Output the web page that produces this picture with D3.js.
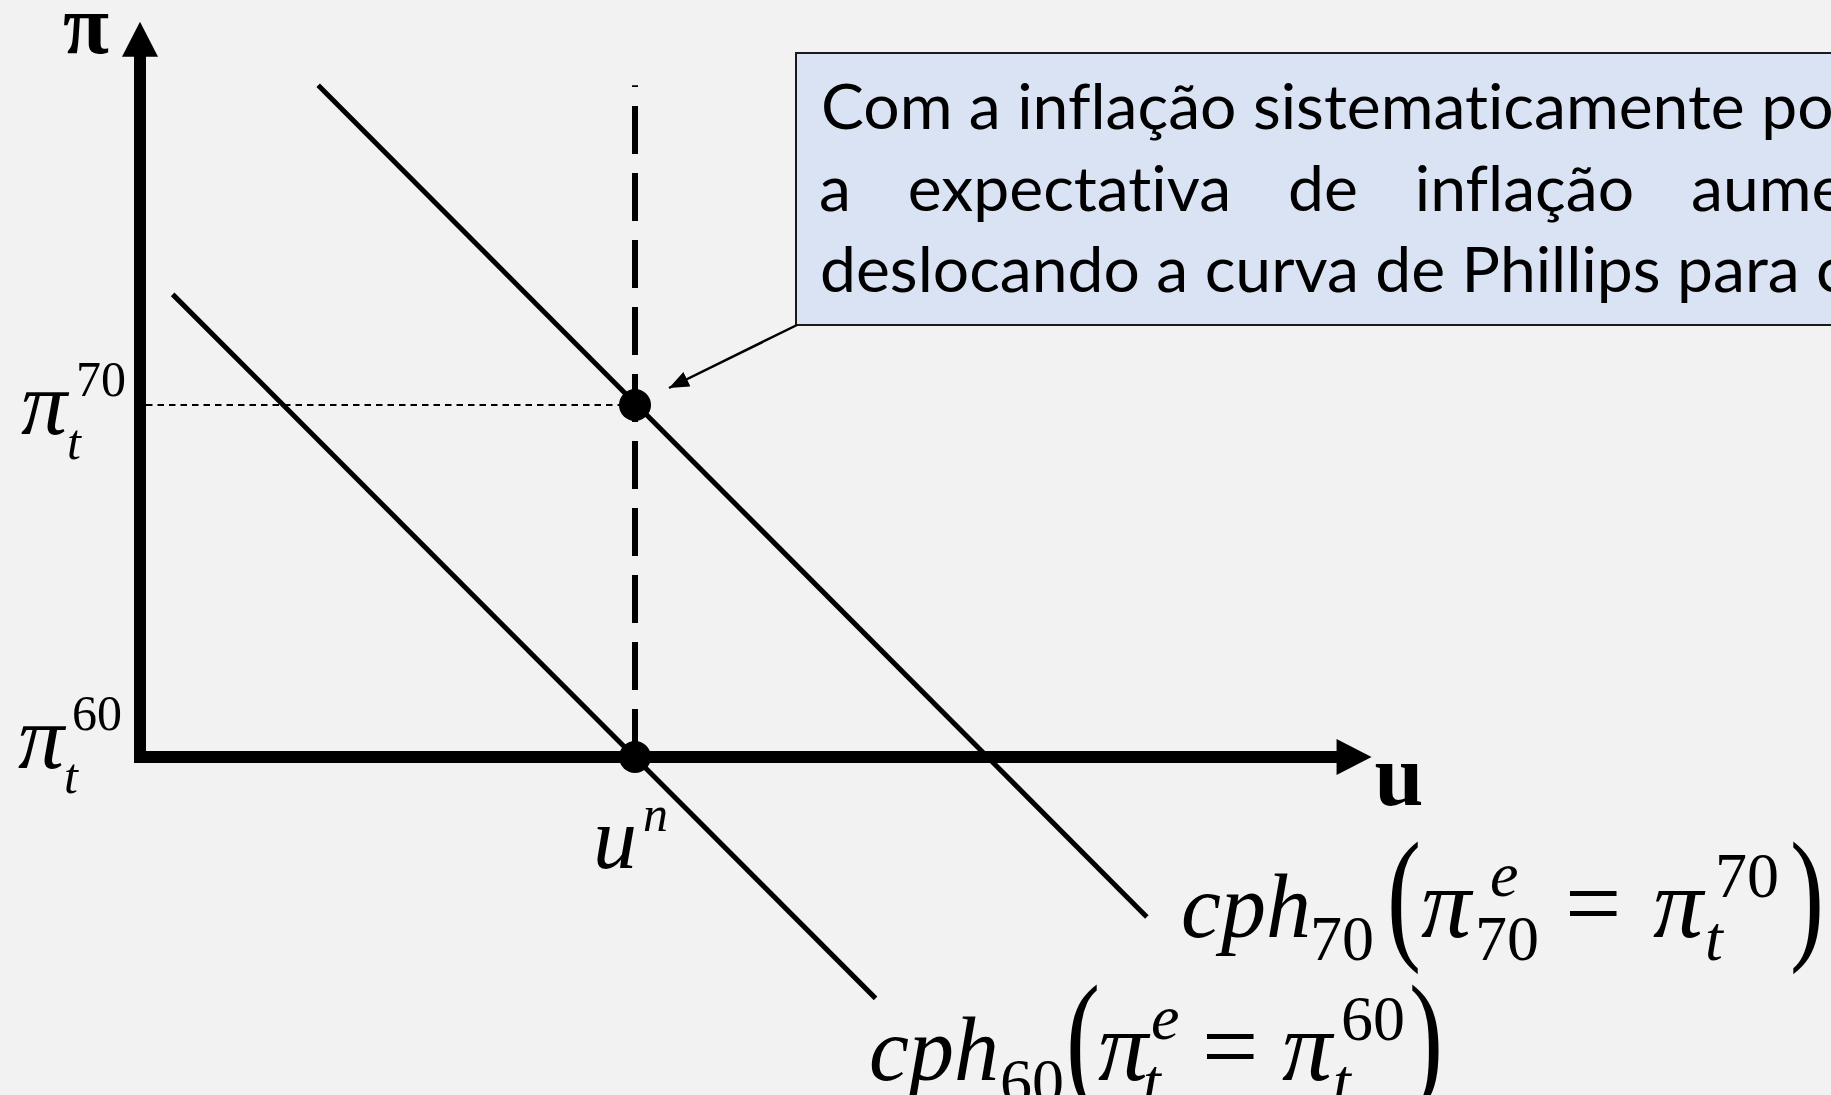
<!DOCTYPE html>
<html>
<head>
<meta charset="utf-8">
<script src="https://cdn.jsdelivr.net/npm/d3@7"></script>
<style>
  html, body { margin: 0; padding: 0; background: #f2f2f2; overflow: hidden; }
  svg { display: block; }
  text { font-variant-ligatures: none; }
</style>
</head>
<body>
<svg id="chart" width="1831" height="1095"></svg>
<script>
// values (u = unemployment, pi = inflation)
var uAxisEnd = 12.44;
var piAxisEnd = 7.31;
var uNatural = 5;
var pi60 = 0;
var pi70 = 3.5;
var cph60 = [[0.33, 4.60], [7.43, -2.40]];
var cph70 = [[1.80, 6.68], [10.17, -1.59]];
var naturalLineTop = 6.68;
var points = [[uNatural, pi70], [uNatural, pi60]];
var noteLines = ["Com a inflação sistematicamente positiva,",
                 "a expectativa de inflação aumenta,",
                 "deslocando a curva de Phillips para cima."];

var svg = d3.select('#chart');
var x = d3.scaleLinear().domain([0, 10]).range([140, 1130]);
var y = d3.scaleLinear().domain([0, 7]).range([757, 53]);
var line = d3.line().x(function (d) { return x(d[0]); }).y(function (d) { return y(d[1]); });

var serif = '"Liberation Serif", "Times New Roman", serif';

// axes with arrow heads
var head = 35, half = 18, axisW = 12;
svg.append('path')
  .attr('d', 'M' + x(0) + ',' + (y(piAxisEnd) + head - 1) + 'L' + x(0) + ',' + y(0) + 'L' + (x(uAxisEnd) - head + 1) + ',' + y(0))
  .attr('fill', 'none').attr('stroke', '#000').attr('stroke-width', axisW).attr('stroke-linejoin', 'miter');
svg.append('path')
  .attr('d', 'M' + x(0) + ',' + y(piAxisEnd) + 'L' + (x(0) - half) + ',' + (y(piAxisEnd) + head) + 'L' + (x(0) + half) + ',' + (y(piAxisEnd) + head) + 'Z')
  .attr('fill', '#000');
svg.append('path')
  .attr('d', 'M' + x(uAxisEnd) + ',' + y(0) + 'L' + (x(uAxisEnd) - head) + ',' + (y(0) - half) + 'L' + (x(uAxisEnd) - head) + ',' + (y(0) + half) + 'Z')
  .attr('fill', '#000');

// dotted guide at pi70
svg.append('path')
  .attr('d', 'M' + (x(0) + axisW / 2) + ',' + y(pi70) + 'L' + x(uNatural) + ',' + y(pi70))
  .attr('stroke', '#000').attr('stroke-width', 2).attr('stroke-dasharray', '6.5,5');

// long-run vertical at natural rate (dash pattern starts at the bottom)
svg.append('path')
  .attr('d', line([[uNatural, 0], [uNatural, naturalLineTop]]))
  .attr('stroke', '#000').attr('stroke-width', 6).attr('stroke-dasharray', '48,19');

// short-run Phillips curves
[cph60, cph70].forEach(function (c) {
  svg.append('path').attr('d', line(c))
    .attr('fill', 'none').attr('stroke', '#000').attr('stroke-width', 5);
});

svg.selectAll('circle.pt').data(points).enter().append('circle')
  .attr('class', 'pt')
  .attr('cx', function (d) { return x(d[0]); })
  .attr('cy', function (d) { return y(d[1]); })
  .attr('r', 16).attr('fill', '#000');

// callout box
var boxX = 796, boxY = 53, boxH = 272;
svg.append('rect').attr('x', boxX).attr('y', boxY).attr('width', 1200).attr('height', boxH)
  .attr('fill', '#dae3f3').attr('stroke', '#1a1a1a').attr('stroke-width', 2);

svg.append('defs').append('marker')
  .attr('id', 'tri').attr('viewBox', '0 0 10 10').attr('refX', 10).attr('refY', 5)
  .attr('markerUnits', 'userSpaceOnUse').attr('markerWidth', 20).attr('markerHeight', 16)
  .attr('orient', 'auto').attr('preserveAspectRatio', 'none')
  .append('path').attr('d', 'M0,0L10,5L0,10Z').attr('fill', '#000');
svg.append('line')
  .attr('x1', boxX + 1).attr('y1', boxY + boxH)
  .attr('x2', x(uNatural) + 34).attr('y2', y(pi70) - 17)
  .attr('stroke', '#000').attr('stroke-width', 2.5).attr('marker-end', 'url(#tri)');

// note text (Calibri look-alike, squeezed to the original width)
var noteFont = 'Lato, "Open Sans", sans-serif';
function textWidth(str) {
  var t = svg.append('text').attr('font-family', noteFont).attr('font-size', 61).text(str);
  var w = t.node().getComputedTextLength();
  t.remove();
  return w;
}
var sx = 924 / textWidth('Com a inflação sistematicamente');
var textX = 821;
var baselines = [129, 210.5, 292];

function noteText(str, px, py) {
  svg.append('text')
    .attr('transform', 'translate(' + px + ',' + py + ') scale(' + sx + ',1)')
    .attr('font-family', noteFont).attr('font-size', 61).attr('fill', '#000')
    .text(str);
}
noteText(noteLines[0], textX, baselines[0]);

// justified second line: equal gaps, last visible word starts near x=1691
var words = noteLines[1].split(' ');
var firstX = 819, lastX = 1691;
var used = 0;
words.slice(0, -1).forEach(function (w) { used += textWidth(w) * sx; });
var gap = (lastX - firstX - used) / (words.length - 1);
var wx = firstX;
words.forEach(function (w) {
  noteText(w, wx, baselines[1]);
  wx += textWidth(w) * sx + gap;
});
noteText(noteLines[2], textX - 1, baselines[2]);

// math labels
function mathLabel(x0, y0, parts) {
  var g = svg.append('g').attr('transform', 'translate(' + x0 + ',' + y0 + ')');
  parts.forEach(function (p) {
    g.append('text')
      .attr('transform', 'translate(' + (p.dx || 0) + ',' + (p.dy || 0) + ') scale(' + (p.sx || 1) + ',1)')
      .attr('font-family', serif).attr('font-size', p.size)
      .attr('font-style', p.italic === false ? 'normal' : 'italic')
      .attr('font-weight', p.bold ? 'bold' : 'normal')
      .attr('fill', '#000')
      .text(p.t);
  });
}

mathLabel(x(0) - 77, y(piAxisEnd) + 31, [{ t: 'π', size: 84, italic: false, bold: true }]);
mathLabel(x(uAxisEnd) + 3, y(0) + 48, [{ t: 'u', size: 88, italic: false, bold: true }]);

mathLabel(21, y(pi70) + 29, [
  { t: 'π', size: 92 },
  { t: '70', dx: 55, dy: -38, size: 50, italic: false },
  { t: 't', dx: 46, dy: 25, size: 50 }
]);
mathLabel(18, y(pi60) + 11, [
  { t: 'π', size: 92 },
  { t: '60', dx: 54, dy: -38, size: 50, italic: false },
  { t: 't', dx: 46, dy: 25, size: 50 }
]);
mathLabel(x(uNatural) - 42, y(0) + 111, [
  { t: 'u', size: 88 },
  { t: 'n', dx: 50, dy: -37, size: 50 }
]);

// cph equations: glyph offsets measured from the first letter
var sMain = 90, sPi = 100, sScript = 64, sParen = 146, pSx = 0.7;
mathLabel(1181, 937, [
  { t: 'cph', size: sMain },
  { t: '70', dx: 129, dy: 23, size: sScript, italic: false },
  { t: '(', dx: 206, dy: 6, size: sParen, italic: false, sx: pSx },
  { t: 'π', dx: 240, size: sPi },
  { t: 'e', dx: 309, dy: -41, size: sScript },
  { t: '70', dx: 294, dy: 23, size: sScript, italic: false },
  { t: '=', dx: 384, size: 100, italic: false },
  { t: 'π', dx: 472, size: sPi },
  { t: '70', dx: 534, dy: -40, size: sScript, italic: false },
  { t: 't', dx: 524, dy: 23, size: sScript },
  { t: ')', dx: 609, dy: 6, size: sParen, italic: false, sx: pSx }
]);
mathLabel(869, 1080, [
  { t: 'cph', size: sMain },
  { t: '60', dx: 131, dy: 23, size: sScript, italic: false },
  { t: '(', dx: 197, dy: 6, size: sParen, italic: false, sx: pSx },
  { t: 'π', dx: 229, size: sPi },
  { t: 'e', dx: 282, dy: -41, size: sScript },
  { t: 't', dx: 274, dy: 23, size: sScript },
  { t: '=', dx: 333, size: 100, italic: false },
  { t: 'π', dx: 413, size: sPi },
  { t: '60', dx: 472, dy: -40, size: sScript, italic: false },
  { t: 't', dx: 464, dy: 23, size: sScript },
  { t: ')', dx: 540, dy: 6, size: sParen, italic: false, sx: pSx }
]);
</script>
</body>
</html>
